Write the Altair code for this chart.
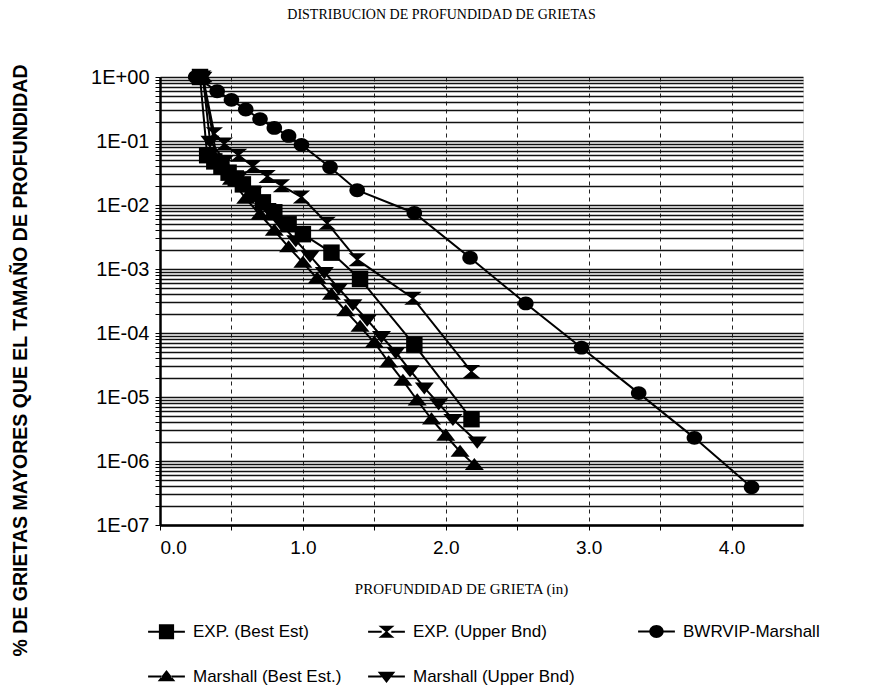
import altair as alt
import pandas as pd

# ---------------- data ----------------
series_names = ["EXP. (Best Est)", "EXP. (Upper Bnd)", "BWRVIP-Marshall",
                "Marshall (Best Est.)", "Marshall (Upper Bnd)"]

exp_best_x = [0.28, 0.33, 0.38, 0.43, 0.48, 0.53, 0.58, 0.65, 0.72, 0.8, 0.9, 1.0, 1.2, 1.4, 1.78, 2.18]
exp_best_y = [1.0, 0.06, 0.048, 0.04, 0.032, 0.026, 0.021, 0.015, 0.011, 0.0077, 0.005, 0.0035,
              0.0018, 0.0007, 6.5e-5, 4.5e-6]

exp_upper_x = [0.3, 0.38, 0.45, 0.55, 0.65, 0.75, 0.85, 0.99, 1.17, 1.38, 1.77, 2.18]
exp_upper_y = [1.0, 0.13, 0.09, 0.06, 0.04, 0.028, 0.02, 0.0133, 0.0052, 0.0014, 0.00035, 2.5e-5]

bwrvip_x = [0.25, 0.4, 0.5, 0.6, 0.7, 0.8, 0.9, 0.99, 1.19, 1.38, 1.78, 2.17, 2.56, 2.95, 3.35, 3.74, 4.14]
bwrvip_y = [1.0, 0.6, 0.44, 0.31, 0.22, 0.16, 0.12, 0.087, 0.039, 0.017, 0.0075, 0.0015,
            2.9e-4, 5.9e-5, 1.15e-5, 2.3e-6, 3.9e-7]

marsh_best_x = [0.3, 0.4, 0.5, 0.6, 0.7, 0.8, 0.9, 1.0, 1.1, 1.2, 1.3, 1.4, 1.5, 1.6, 1.7,
                1.8, 1.9, 2.0, 2.1, 2.2]
marsh_best_y = [1.0, 0.05, 0.025, 0.0126, 0.0071, 0.004, 0.0022, 0.00126, 7.1e-4, 4.0e-4,
                2.2e-4, 1.26e-4, 7.1e-5, 3.5e-5, 1.8e-5, 8.9e-6, 4.5e-6, 2.5e-6, 1.4e-6, 8.7e-7]

marsh_upper_x = [0.3, 0.35, 0.45, 0.55, 0.65, 0.75, 0.85, 0.95, 1.05, 1.15, 1.25, 1.35, 1.45,
                 1.55, 1.65, 1.75, 1.85, 1.95, 2.05, 2.22]
marsh_upper_y = [1.0, 0.1, 0.05, 0.028, 0.016, 0.0089, 0.005, 0.0028, 0.0016, 8.9e-4, 5.0e-4,
                 2.8e-4, 1.6e-4, 8.9e-5, 5.0e-5, 2.6e-5, 1.4e-5, 7.9e-6, 4.5e-6, 2.0e-6]

y_decades = [1e-7, 1e-6, 1e-5, 1e-4, 1e-3, 1e-2, 1e-1, 1.0]
x_tick_values = [0.0, 0.5, 1.0, 1.5, 2.0, 2.5, 3.0, 3.5, 4.0]

# ---------------- table ----------------
rows = []
for name, xs, ys in [
    (series_names[0], exp_best_x, exp_best_y),
    (series_names[1], exp_upper_x, exp_upper_y),
    (series_names[2], bwrvip_x, bwrvip_y),
    (series_names[3], marsh_best_x, marsh_best_y),
    (series_names[4], marsh_upper_x, marsh_upper_y),
]:
    for xv, yv in zip(xs, ys):
        rows.append({"serie": name, "x": xv, "y": yv})
df = pd.DataFrame(rows)

# minor log grid values
y_grid_values = []
for d in y_decades[:-1]:
    for k in range(1, 10):
        y_grid_values.append(float(f"{k * d:.10g}"))
y_grid_values.append(1.0)

# ---------------- marker shapes ----------------
sq = "M-0.95,-0.95L0.95,-0.95L0.95,0.95L-0.95,0.95Z"
hg = "M-1,-0.75L1,-0.75L0.12,0L1,0.75L-1,0.75L-0.12,0Z"
ci = "M-0.9,0A0.9,0.8 0 1,1 0.9,0A0.9,0.8 0 1,1 -0.9,0Z"
tu = "M-1.1,0.6L1.1,0.6L0,-0.8Z"
td = "M-1.1,-0.6L1.1,-0.6L0,0.8Z"
marker_paths = [sq, hg, ci, tu, td]
# legend symbols: short horizontal bars on both sides plus the marker
bar = ("M-2.3,-0.14L-0.6,-0.14L-0.6,0.14L-2.3,0.14Z"
       "M0.6,-0.14L2.3,-0.14L2.3,0.14L0.6,0.14Z")
legend_path = {n: bar + p for n, p in zip(series_names, marker_paths)}

FONT = "Liberation Sans"
SERIF = "Liberation Serif"

xscale = alt.Scale(domain=[0, 4.5], nice=False, zero=False)
yscale = alt.Scale(type="log", domain=[1e-7, 1], nice=False)

ylabel_expr = (
    "abs(log(datum.value)/LN10 - round(log(datum.value)/LN10)) < 0.001 ? "
    "(datum.value >= 0.999 ? '1E+00' : '1E-' + format(-round(log(datum.value)/LN10), '02d')) : ''"
)

xaxis = alt.Axis(
    values=x_tick_values,
    labelExpr="datum.value % 1 == 0 ? format(datum.value, '.1f') : ''",
    title="PROFUNDIDAD DE GRIETA (in)",
    titleFont=SERIF, titleFontSize=15, titleFontWeight="normal", titleColor="black",
    titleX=301, titleY=63, titleAnchor="start", titleAlign="center", titleBaseline="middle",
    labelFont=FONT, labelFontSize=19, labelColor="black", labelPadding=8,
    tickSize=5, tickColor="black", tickWidth=1,
    domainColor="black", domainWidth=2.5,
    grid=True, gridColor="#222", gridWidth=1, gridDash=[4, 4], gridOpacity=1,
)

yaxis = alt.Axis(
    values=y_grid_values,
    labelExpr=ylabel_expr,
    title="% DE GRIETAS MAYORES QUE EL TAMAÑO DE PROFUNDIDAD",
    titleFont=FONT, titleFontSize=19.5, titleFontWeight="bold", titleColor="black",
    titleX=-140, titleY=283, titleAngle=270, titleAlign="center", titleBaseline="middle",
    titleAnchor="start",
    labelFont=FONT, labelFontSize=20, labelColor="black", labelPadding=6,
    labelOverlap=False,
    tickSize=5, tickColor="black", tickWidth=1,
    domainColor="black", domainWidth=2.5,
    grid=True, gridColor="#111", gridWidth=1.4, gridOpacity=1,
)

base = alt.Chart(df)

lines = base.mark_line(color="black", strokeWidth=2).encode(
    x=alt.X("x:Q", scale=xscale, axis=xaxis),
    y=alt.Y("y:Q", scale=yscale, axis=yaxis),
    detail="serie:N",
    order="x:Q",
)

points = base.mark_point(filled=True, color="black", opacity=1, size=300).encode(
    x="x:Q",
    y="y:Q",
    shape=alt.Shape("serie:N",
                    scale=alt.Scale(domain=series_names, range=marker_paths),
                    legend=None),
)


def legend_layer(names, lx, ly, columns):
    return base.transform_filter("false").mark_point(
        filled=True, color="black", opacity=1, size=256
    ).encode(
        x="x:Q",
        y="y:Q",
        shape=alt.Shape(
            "serie:N",
            scale=alt.Scale(domain=names, range=[legend_path[n] for n in names]),
            legend=alt.Legend(
                title=None, orient="none", legendX=lx, legendY=ly,
                direction="horizontal",
                columns=columns, columnPadding=26, rowPadding=27,
                symbolSize=256, symbolOffset=10, labelOffset=18,
                symbolFillColor="black", symbolOpacity=1, symbolStrokeWidth=0,
                labelFont=FONT, labelFontSize=17, labelColor="black", labelLimit=300,
            ),
        ),
    )


legend_a = legend_layer(
    [series_names[0], series_names[1], series_names[3], series_names[4]], -12, 546, 2)
legend_b = legend_layer([series_names[2]], 478, 546, 1)

chart = (
    alt.layer(lines, points, legend_a, legend_b)
    .resolve_scale(shape="independent")
    .properties(
        width=643,
        height=448,
        title=alt.TitleParams(
            "DISTRIBUCIÓN DE PROFUNDIDAD DE GRIETAS",
            font=SERIF, fontSize=14, fontWeight="normal", color="black",
            anchor="middle", dx=-40, offset=42,
        ),
        autosize=alt.AutoSizeParams(type="none"),
        padding={"left": 152, "top": 69, "right": 70, "bottom": 165},
    )
    .configure_view(stroke=None)
    .configure(background="white")
)

chart.save("out.html", embed_options={"renderer": "svg", "actions": False})
